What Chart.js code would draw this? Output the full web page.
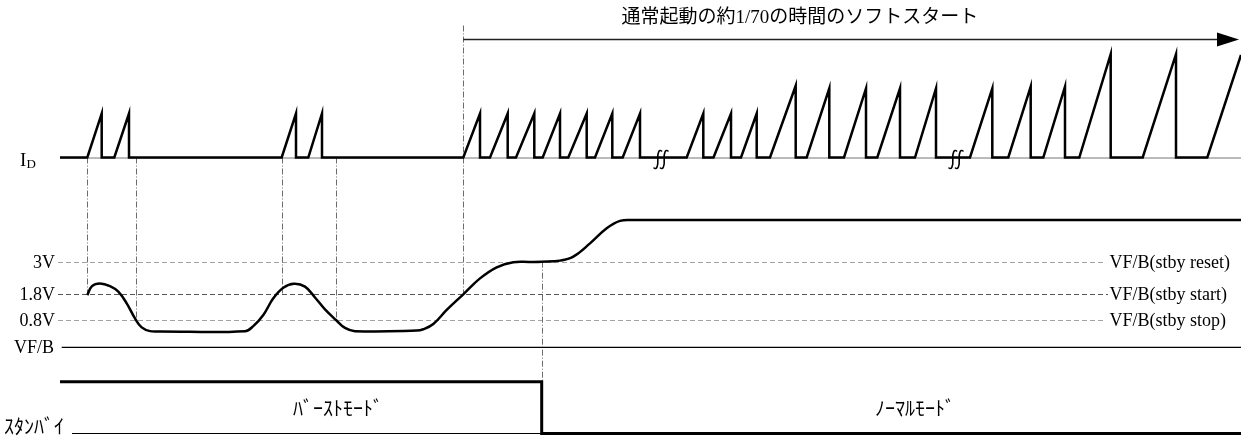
<!DOCTYPE html>
<html>
<head>
<meta charset="utf-8">
<script src="https://cdn.jsdelivr.net/npm/chart.js@4/dist/chart.umd.min.js"></script>
<style>
  html, body { margin: 0; padding: 0; background: #fff; }
  canvas { display: block; }
</style>
</head>
<body>
<canvas id="timing" width="1241" height="436"></canvas>
<script>
// Time axis in arbitrary units (t = 0 where the traces start).
const T_MIN = -60, T_MAX = 1181;

// Drain current I_D: each switching pulse ramps from 0 at pulseStart to pulseLevel at pulsePeak, then drops.
const pulseStart = [27.3, 54.3, 221.7, 248.3,
                    403.3, 430, 456, 482.7, 508.3, 535, 562.7,
                    626.7, 653.5, 681,
                    710, 746.7, 784, 817.3, 855,
                    910, 948.3, 983.3,
                    1019.3, 1082.7, 1147.3];
const pulsePeak  = [41.7, 69, 236, 262,
                    420, 447.7, 474.3, 500, 526.7, 552.3, 580,
                    643.3, 671, 696.7,
                    735.7, 769.3, 806, 840, 876,
                    932.3, 970.7, 1005,
                    1050.7, 1116, 1181];
const pulseLevel = [1, 1, 1, 1,
                    1, 1, 1, 1, 1, 1, 1,
                    1, 1, 1,
                    1.63, 1.57, 1.57, 1.57, 1.57,
                    1.57, 1.61, 1.61,
                    2.35, 2.35, 2.33];
// Omitted stretches of time on the I_D trace
const breakTimes = [601, 896];

// Feedback voltage VF/B (V)
const vfbTime  = [27.3, 32, 40, 50, 58.3, 66.7, 75, 81.7, 90, 100,
                  185, 193.3, 203.3, 213.3, 223.3, 234, 245, 255, 265, 276, 285, 295,
                  356.7, 363.3, 373.3, 386.7, 403.3, 420, 436.7, 453.3, 470, 481.7,
                  500, 513.3, 530, 546.7, 560, 573.3, 1181];
const vfbVolts = [1.74, 2.08, 2.18, 2.08, 1.87, 1.43, 0.86, 0.52, 0.38, 0.37,
                  0.38, 0.57, 0.99, 1.62, 2.02, 2.17, 2.06, 1.65, 1.2, 0.8, 0.5, 0.38,
                  0.4, 0.45, 0.65, 1.18, 1.77, 2.37, 2.79, 2.98, 2.99, 3.0,
                  3.04, 3.19, 3.69, 4.26, 4.54, 4.57, 4.57];

// Standby thresholds
const thresholdVolts  = [3, 1.8, 0.8];
const thresholdLeft   = ['3V', '1.8V', '0.8V'];
const thresholdRight  = ['VF/B(stby reset)', 'VF/B(stby start)', 'VF/B(stby stop)'];

// Standby signal (1 = standby active)
const standbyTime  = [0, 481.7, 481.7, 1181];
const standbyLevel = [1, 1, 0, 0];

// Event markers: time, and the trace levels they join
const markerTime = [27.3, 76, 221.7, 276, 403.3, 481.7];

const titleText = '通常起動の約1/70の時間のソフトスタート';
const modeLabels = ['ﾊﾞｰｽﾄﾓｰﾄﾞ', 'ﾉｰﾏﾙﾓｰﾄﾞ'];
const standbyName = 'ｽﾀﾝﾊﾞｲ';

// ---- build point lists ----
const idPoints = [{ x: 0, y: 0 }];
pulseStart.forEach((s, i) => {
  idPoints.push({ x: s, y: 0 }, { x: pulsePeak[i], y: pulseLevel[i] });
  if (pulsePeak[i] < T_MAX) idPoints.push({ x: pulsePeak[i], y: 0 });
});
const vfbPoints = vfbTime.map((t, i) => ({ x: t, y: vfbVolts[i] }));
const stbyPoints = standbyTime.map((t, i) => ({ x: t, y: standbyLevel[i] }));

// Each trace gets its own hidden axis spanning the full height.
const H = 436;
function band(zeroPx, pxPerUnit) {
  return { min: -(H - zeroPx) / pxPerUnit, max: zeroPx / pxPerUnit };
}
const idBand = band(157.5, 44);
const vBand = band(341.2, 26.5);
const sBand = band(433.5, 51.8);

const SERIF = '"Liberation Serif", "Times New Roman", "Noto Sans CJK JP", serif';
const GOTHIC = '"Noto Sans CJK JP", sans-serif';

const decor = {
  id: 'timingDecor',
  beforeDatasetsDraw(chart) {
    const { ctx, scales } = chart;
    const X = v => scales.x.getPixelForValue(v);
    const Yi = v => scales.yId.getPixelForValue(v);
    const Yv = v => scales.yV.getPixelForValue(v);
    const Ys = v => scales.yS.getPixelForValue(v);
    ctx.save();

    // threshold lines
    const thrColors = ['#a3a3a3', '#555', '#a3a3a3'];
    const thrEnds = [1045, 1048, 1045];
    thresholdVolts.forEach((v, i) => {
      const y = Math.round(Yv(v)) + 0.5;
      ctx.beginPath();
      ctx.setLineDash([5, 3]);
      ctx.strokeStyle = thrColors[i];
      ctx.lineWidth = 1;
      ctx.moveTo(X(-2), y);
      ctx.lineTo(X(thrEnds[i]), y);
      ctx.stroke();
    });

    // event markers (dash-dot)
    const arrowY = 39.5;
    const markerSpan = [
      [Yi(0), Yv(1.8)],
      [Yi(0), Yv(0.8)],
      [Yi(0), Yv(1.8)],
      [Yi(0), Yv(0.8)],
      [arrowY - 14, Yv(1.8)],
      [Yv(3), Ys(1)]
    ];
    ctx.setLineDash([6, 2, 1, 2]);
    ctx.strokeStyle = '#6d6d6d';
    ctx.lineWidth = 1;
    markerTime.forEach((t, i) => {
      const x = Math.round(X(t)) + 0.5;
      ctx.beginPath();
      ctx.moveTo(x, markerSpan[i][0]);
      ctx.lineTo(x, markerSpan[i][1]);
      ctx.stroke();
    });
    ctx.setLineDash([]);

    // I_D reference rail
    ctx.beginPath();
    ctx.strokeStyle = '#777';
    ctx.lineWidth = 1;
    ctx.moveTo(X(0), Yi(0) + 0.5);
    ctx.lineTo(X(T_MAX), Yi(0) + 0.5);
    ctx.stroke();

    // VF/B axis rule
    ctx.beginPath();
    ctx.strokeStyle = '#000';
    ctx.lineWidth = 1.3;
    ctx.moveTo(X(1.7), 347.3);
    ctx.lineTo(X(T_MAX), 347.3);
    ctx.stroke();

    // standby low rail
    ctx.beginPath();
    ctx.lineWidth = 1.2;
    ctx.moveTo(X(12), Ys(0));
    ctx.lineTo(X(481.7), Ys(0));
    ctx.stroke();

    ctx.restore();
  },
  afterDatasetsDraw(chart) {
    const { ctx, scales } = chart;
    const X = v => scales.x.getPixelForValue(v);
    const Yi = v => scales.yId.getPixelForValue(v);
    const Yv = v => scales.yV.getPixelForValue(v);
    ctx.save();
    ctx.fillStyle = '#000';
    ctx.strokeStyle = '#000';

    // break marks on the I_D baseline
    ctx.lineWidth = 1.6;
    ctx.lineCap = 'round';
    breakTimes.forEach(t => {
      const cx = X(t), cy = Yi(0) + 2;
      [-3.2, 3.2].forEach(dx => {
        const x = cx + dx;
        ctx.beginPath();
        ctx.moveTo(x + 3.8, cy - 8.5);
        ctx.bezierCurveTo(x + 1.5, cy - 10.5, x - 0.5, cy - 7, x, cy);
        ctx.bezierCurveTo(x + 0.5, cy + 7, x - 1.5, cy + 10.5, x - 3.8, cy + 8.5);
        ctx.stroke();
      });
    });
    ctx.lineCap = 'butt';

    // soft-start arrow
    const arrowY = 39.5;
    ctx.beginPath();
    ctx.lineWidth = 1.5;
    ctx.strokeStyle = '#222';
    ctx.moveTo(X(403.3), arrowY);
    ctx.lineTo(1222, arrowY);
    ctx.stroke();
    ctx.beginPath();
    ctx.moveTo(1239, arrowY);
    ctx.lineTo(1217, arrowY - 7);
    ctx.lineTo(1217, arrowY + 7);
    ctx.closePath();
    ctx.fill();

    ctx.font = '19px ' + SERIF;
    ctx.textAlign = 'left';
    ctx.textBaseline = 'alphabetic';
    ctx.fillText(titleText, X(561.5), 23);

    // I_D label
    ctx.font = '19px ' + SERIF;
    ctx.fillText('I', 20, 166);
    ctx.font = '13px ' + SERIF;
    ctx.fillText('D', 26.5, 168);

    // threshold labels
    ctx.font = '18px ' + SERIF;
    thresholdVolts.forEach((v, i) => {
      const y = Yv(v) + 6;
      ctx.textAlign = 'right';
      ctx.fillText(thresholdLeft[i], 55, y);
      ctx.textAlign = 'left';
      ctx.fillText(thresholdRight[i], X(1049.5), y);
    });
    ctx.textAlign = 'right';
    ctx.fillText('VF/B', 54, 353);

    // mode labels
    ctx.font = '20px ' + GOTHIC;
    ctx.textBaseline = 'middle';
    ctx.textAlign = 'center';
    ctx.fillText(modeLabels[0], X(278), 408);
    ctx.fillText(modeLabels[1], X(855), 408);
    ctx.textAlign = 'left';
    ctx.fillText(standbyName, 4, 426);

    ctx.restore();
  }
};

const hiddenAxis = (b) => ({ type: 'linear', display: false, min: b.min, max: b.max });

new Chart(document.getElementById('timing'), {
  type: 'line',
  data: {
    datasets: [
      { label: 'I_D', data: idPoints, yAxisID: 'yId', borderColor: '#000', borderWidth: 2.5,
        pointRadius: 0, tension: 0, borderJoinStyle: 'miter', clip: false },
      { label: 'VF/B', data: vfbPoints, yAxisID: 'yV', borderColor: '#000', borderWidth: 2.5,
        pointRadius: 0, tension: 0.4, clip: false },
      { label: 'standby', data: stbyPoints, yAxisID: 'yS', borderColor: '#000', borderWidth: 3,
        pointRadius: 0, tension: 0, borderJoinStyle: 'miter', clip: false }
    ]
  },
  options: {
    responsive: false,
    devicePixelRatio: 1,
    animation: false,
    layout: { padding: 0 },
    plugins: { legend: { display: false }, tooltip: { enabled: false }, title: { display: false } },
    scales: {
      x: { type: 'linear', display: false, min: T_MIN, max: T_MAX },
      yId: hiddenAxis(idBand),
      yV: hiddenAxis(vBand),
      yS: hiddenAxis(sBand)
    }
  },
  plugins: [decor]
});
</script>
</body>
</html>
